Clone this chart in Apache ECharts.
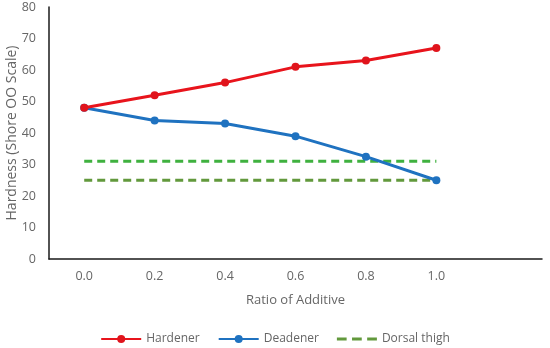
<!DOCTYPE html>
<html><head><meta charset="utf-8">
<script src="https://cdn.jsdelivr.net/npm/echarts@6/dist/echarts.min.js"></script>
<style>html,body{margin:0;padding:0;background:#fff}#c{width:550px;height:348px}</style>
</head><body><div id="c"></div>
<script>
const categories = ['0.0','0.2','0.4','0.6','0.8','1.0',''];
const hardener = [48, 52, 56, 61, 63, 67];
const deadener = [48, 44, 43, 39, 32.5, 25];
const dorsalUpper = [31, 31, 31, 31, 31, 31];
const dorsalLower = [25, 25, 25, 25, 25, 25];
const yTicks = [0, 10, 20, 30, 40, 50, 60, 70, 80];

const font = '"Open Sans", Lato, sans-serif';
const txt = '#666666';
const chart = echarts.init(document.getElementById('c'), null, {renderer:'canvas'});
chart.setOption({
  animation:false,
  grid:{left:49, top:7, right:8, bottom:89, containLabel:false, outerBoundsMode:'none'},
  xAxis:{
    type:'category', data:categories, boundaryGap:true,
    name:'Ratio of Additive', nameLocation:'middle', nameGap:35, nameMoveOverlap:false,
    nameTextStyle:{color:txt, fontSize:13, fontFamily:font},
    axisLine:{lineStyle:{color:'#1a1a1a', width:1.5}},
    axisTick:{show:false},
    axisLabel:{color:txt, fontSize:12.5, fontFamily:font, margin:11}
  },
  yAxis:{
    type:'value', min:yTicks[0], max:yTicks[yTicks.length-1], interval:10,
    name:'Hardness (Shore OO Scale)', nameLocation:'middle', nameGap:30, nameMoveOverlap:false,
    nameTextStyle:{color:txt, fontSize:14, fontFamily:font},
    axisLine:{show:true, lineStyle:{color:'#1a1a1a', width:1.5}},
    axisTick:{show:false},
    splitLine:{show:false},
    axisLabel:{color:txt, fontSize:12.5, fontFamily:font, margin:13}
  },
  legend:{
    top:328, left:'center', itemWidth:40, itemHeight:10, itemGap:18,
    textStyle:{color:txt, fontSize:12, fontFamily:font},
    data:['Hardener','Deadener',
      {name:'Dorsal thigh', icon:'path://M0,0h9v3h-9z M14,0h9v3h-9z M28,0h9v3h-9z', itemStyle:{color:'#62993c'}}]
  },
  series:[
    {name:'Dorsal thigh', type:'line', data:dorsalUpper, symbol:'none',
     lineStyle:{color:'#3fb13f', width:3, type:[8,5]}, itemStyle:{color:'#62993c'}, z:1},
    {name:'Dorsal thigh', type:'line', data:dorsalLower, symbol:'none',
     lineStyle:{color:'#62993c', width:3, type:[8,5]}, itemStyle:{color:'#62993c'}, z:1},
    {name:'Hardener', type:'line', data:hardener, symbol:'circle', symbolSize:8,
     lineStyle:{color:'#e8141c', width:3}, itemStyle:{color:'#e0141c'}, z:3},
    {name:'Deadener', type:'line', data:deadener, symbol:'circle', symbolSize:8,
     lineStyle:{color:'#1f72c0', width:3}, itemStyle:{color:'#1f72c0'}, z:2}
  ]
});
</script></body></html>
